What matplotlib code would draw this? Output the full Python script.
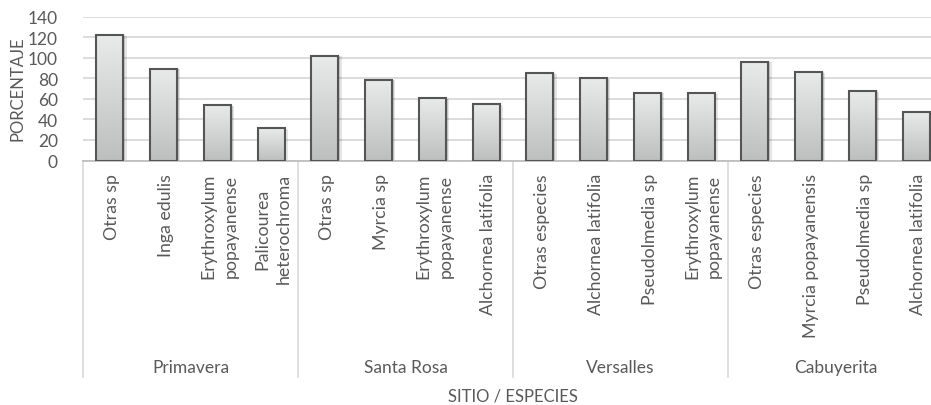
import numpy as np
import matplotlib
matplotlib.use("Agg")
import matplotlib.pyplot as plt
from matplotlib.patches import Rectangle
from matplotlib.colors import LinearSegmentedColormap

plt.rcParams['font.family'] = ['Lato', 'DejaVu Sans']

sites = ["Primavera", "Santa Rosa", "Versalles", "Cabuyerita"]
species = [
    ["Otras sp", "Inga edulis", "Erythroxylum\npopayanense", "Palicourea\nheterochroma"],
    ["Otras sp", "Myrcia sp", "Erythroxylum\npopayanense", "Alchornea latifolia"],
    ["Otras especies", "Alchornea latifolia", "Pseudolmedia sp", "Erythroxylum\npopayanense"],
    ["Otras especies", "Myrcia popayanensis", "Pseudolmedia sp", "Alchornea latifolia"],
]
values = [
    [122, 89, 53.5, 31.5],
    [102, 78.5, 60.5, 54.5],
    [85, 80, 66, 65.5],
    [96, 86, 67.5, 47],
]
yticks = [0, 20, 40, 60, 80, 100, 120, 140]

W, H, DPI = 931, 406, 100
fig = plt.figure(figsize=(W / DPI, H / DPI), dpi=DPI)
ax_left, ax_right, ax_top, ax_bot = 83, 943, 17.5, 161.5
ax = fig.add_axes([ax_left / W, 1 - ax_bot / H, (ax_right - ax_left) / W, (ax_bot - ax_top) / H])
ax_h = ax_bot - ax_top


def ypix(p):
    # pixel row of the figure -> y in axes fraction
    return (ax_bot - p) / ax_h


flat_vals = [v for grp in values for v in grp]
flat_names = [s for grp in species for s in grp]
n = len(flat_vals)
x = np.arange(n)
bw = 0.5

text_col = "#595959"
grid_col = "#d9d9d9"
ax.set_yticks(yticks)
ax.yaxis.grid(True, color=grid_col, linewidth=1.3)
ax.set_axisbelow(True)
ax.tick_params(axis='y', length=0, labelsize=12.5, labelcolor=text_col, pad=18)
ax.set_xticks([])
for s in ['top', 'right', 'left']:
    ax.spines[s].set_visible(False)
ax.spines['bottom'].set_color("#bfbfbf")
ax.spines['bottom'].set_linewidth(1.3)

cmap = LinearSegmentedColormap.from_list("barfill", ["#bdbebe", "#e9eaea"])
grad = np.linspace(0, 1, 256).reshape(-1, 1)

for xi, v in zip(x, flat_vals):
    # soft shadow behind each bar
    for k, a in [(0.06, 0.10), (0.035, 0.14)]:
        sh = Rectangle((xi - bw / 2 + k, 0), bw, v - k * 8, facecolor="#000000",
                       alpha=a, edgecolor='none', zorder=2)
        ax.add_patch(sh)
    im = ax.imshow(grad, extent=(xi - bw / 2, xi + bw / 2, 0, v), origin='lower',
                   cmap=cmap, aspect='auto', zorder=3)
    rect = Rectangle((xi - bw / 2, 0), bw, v, facecolor='none',
                     edgecolor="#555555", linewidth=1.5, zorder=4)
    ax.add_patch(rect)
    im.set_clip_path(rect)

ax.set_aspect('auto')
ax.set_xlim(-0.5, n - 0.5)
ax.set_ylim(0, 140)

xt = ax.get_xaxis_transform()
for xi, name in zip(x, flat_names):
    ax.text(xi + 0.04, ypix(174), name, rotation=90, ha='center', va='top',
            multialignment='center', fontsize=12.8, color=text_col,
            transform=xt, linespacing=1.45)

sep_bottom = ypix(378)
for g in range(len(sites)):
    xs = g * 4 - 0.5
    ax.plot([xs, xs], [0, sep_bottom], color="#d9d9d9", linewidth=1.2,
            transform=xt, clip_on=False)

for g, site in enumerate(sites):
    ax.text(g * 4 + 1.5, ypix(368), site, ha='center', va='center',
            fontsize=12.5, color=text_col, transform=xt)

ax.text(0.5, ypix(397), "SITIO / ESPECIES", ha='center', va='center',
        fontsize=12, color=text_col, transform=ax.transAxes)
fig.text(18 / W, 1 - 89 / H, "PORCENTAJE", rotation=90, ha='center', va='center',
         fontsize=12, color=text_col)

fig.savefig("out.png", dpi=DPI)
